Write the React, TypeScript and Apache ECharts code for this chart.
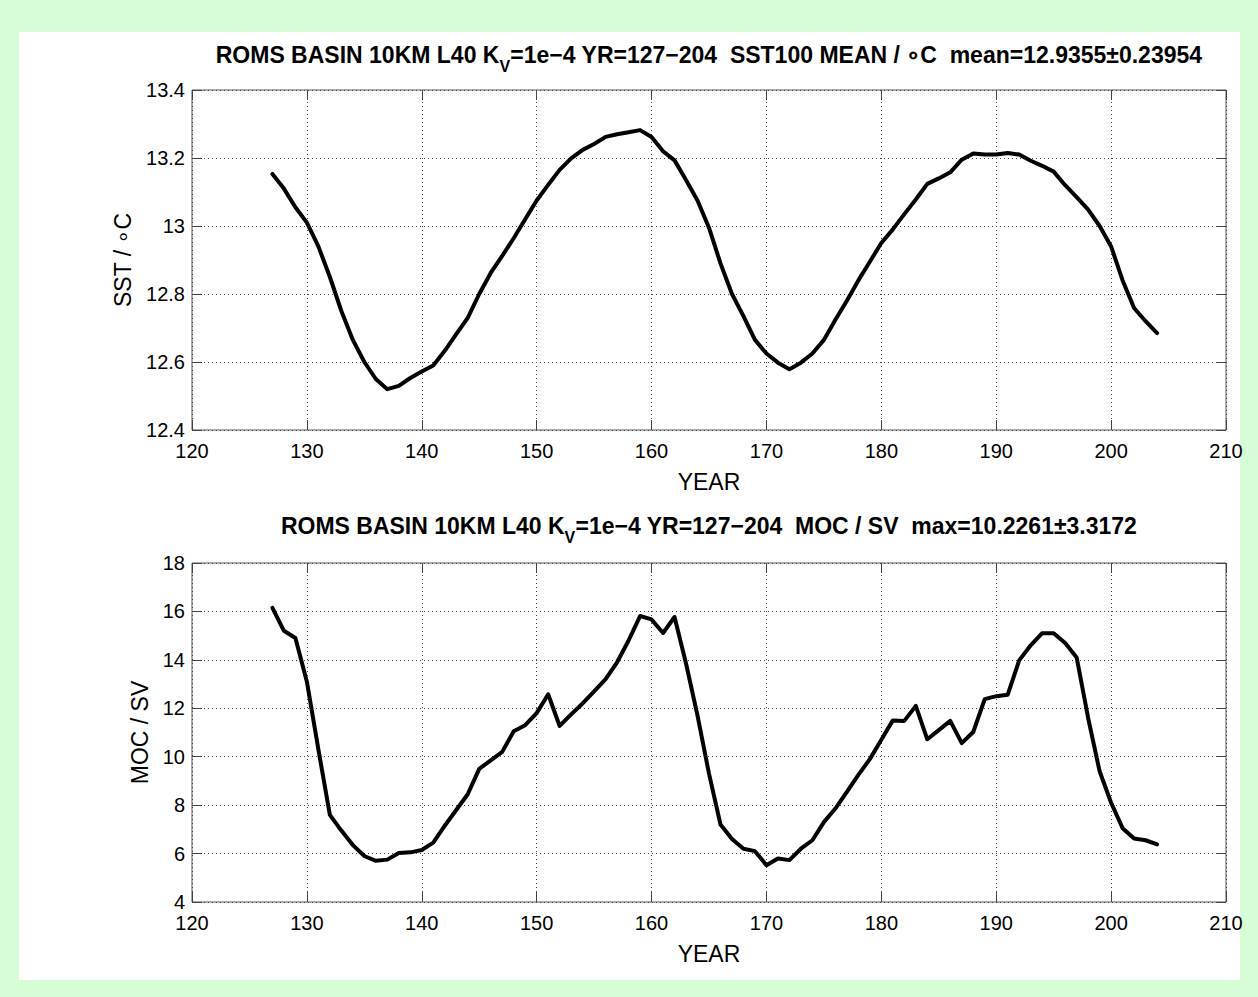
import React, { useEffect, useRef } from "react";
import * as echarts from "echarts";

const YEARS = [
  127, 128, 129, 130, 131, 132, 133, 134, 135, 136, 137, 138, 139, 140, 141, 142, 143, 144, 145, 146,
  147, 148, 149, 150, 151, 152, 153, 154, 155, 156, 157, 158, 159, 160, 161, 162, 163, 164, 165, 166,
  167, 168, 169, 170, 171, 172, 173, 174, 175, 176, 177, 178, 179, 180, 181, 182, 183, 184, 185, 186,
  187, 188, 189, 190, 191, 192, 193, 194, 195, 196, 197, 198, 199, 200, 201, 202, 203, 204,
];

const SST = [
  13.153, 13.11, 13.055, 13.01, 12.94, 12.85, 12.75, 12.665, 12.6, 12.55, 12.52, 12.53, 12.553, 12.572,
  12.59, 12.633, 12.682, 12.73, 12.8, 12.862, 12.912, 12.964, 13.02, 13.075, 13.121, 13.165, 13.199,
  13.224, 13.241, 13.262, 13.27, 13.276, 13.282, 13.262, 13.22, 13.193, 13.135, 13.075, 12.995, 12.89,
  12.8, 12.735, 12.665, 12.625, 12.598, 12.579, 12.598, 12.625, 12.665, 12.724, 12.78, 12.84, 12.895,
  12.95, 12.99, 13.035, 13.078, 13.124, 13.14, 13.158, 13.195, 13.213, 13.21, 13.21, 13.215, 13.21,
  13.192, 13.177, 13.16, 13.12, 13.085, 13.048, 13.0, 12.94, 12.84, 12.759, 12.72, 12.685,
];

const MOC = [
  16.15, 15.2, 14.9, 13.1, 10.3, 7.6, 6.95, 6.35, 5.9, 5.7, 5.75, 6.02, 6.05, 6.15, 6.45, 7.15, 7.8,
  8.45, 9.5, 9.85, 10.2, 11.05, 11.3, 11.8, 12.58, 11.27, 11.75, 12.2, 12.7, 13.2, 13.9, 14.8, 15.81,
  15.67, 15.11, 15.77, 13.85, 11.7, 9.3, 7.2, 6.6, 6.2, 6.1, 5.52, 5.8, 5.73, 6.2, 6.55, 7.3, 7.86,
  8.55, 9.25, 9.9, 10.7, 11.5, 11.48, 12.1, 10.72, 11.1, 11.48, 10.56, 11.02, 12.38, 12.5, 12.56,
  13.98, 14.6, 15.1, 15.1, 14.7, 14.1, 11.6, 9.4, 8.1, 7.05, 6.62, 6.55, 6.38,
];

const X_RANGE = [120, 210];
const X_STEP = 10;
const SST_RANGE = [12.4, 13.4];
const SST_STEP = 0.2;
const MOC_RANGE = [4, 18];
const MOC_STEP = 2;

const TITLE_HEAD = "ROMS BASIN 10KM L40 K";
const TITLE_SUB = "V";
const TITLE1_TAIL = "=1e\u22124 YR=127\u2212204  SST100 MEAN / \u2218C  mean=12.9355\u00b10.23954";
const TITLE2_TAIL = "=1e\u22124 YR=127\u2212204  MOC / SV  max=10.2261\u00b13.3172";
const X_NAME = "YEAR";
const SST_NAME = "SST / \u2218C";
const MOC_NAME = "MOC / SV";

const FONT = "'Liberation Sans', Arial, Helvetica, sans-serif";

const PLOT_LEFT = 192;
const PLOT_WIDTH = 1034;
const TOP1 = 90;
const H1 = 340;
const TOP2 = 563;
const H2 = 339;

function xAxes(gridIndex: number) {
  const base = {
    gridIndex,
    type: "value" as const,
    min: X_RANGE[0],
    max: X_RANGE[1],
    interval: X_STEP,
    axisLine: { show: false },
    axisTick: { show: true, inside: true, length: 10, lineStyle: { color: "#444", width: 1 } },
  };
  return [
    {
      ...base,
      position: "bottom",
      axisLabel: { show: true, fontSize: 20, color: "#000", fontFamily: FONT, margin: 11 },
      splitLine: { show: true, lineStyle: { type: [1, 3], color: "#444", width: 1 } },
      name: X_NAME,
      nameLocation: "middle",
      nameGap: 40,
      nameTextStyle: { fontSize: 23, color: "#000", fontFamily: FONT },
    },
    {
      ...base,
      position: "top",
      axisLabel: { show: false },
      splitLine: { show: false },
    },
  ];
}

function yAxes(gridIndex: number, range: number[], step: number, name: string, gap: number) {
  const base = {
    gridIndex,
    type: "value" as const,
    min: range[0],
    max: range[1],
    interval: step,
    axisLine: { show: false },
    axisTick: { show: true, inside: true, length: 10, lineStyle: { color: "#444", width: 1 } },
  };
  return [
    {
      ...base,
      position: "left",
      axisLabel: { show: true, fontSize: 20, color: "#000", fontFamily: FONT, margin: 7 },
      splitLine: { show: true, lineStyle: { type: [1, 3], color: "#444", width: 1 } },
      name,
      nameLocation: "middle",
      nameGap: gap,
      nameTextStyle: { fontSize: 23, color: "#000", fontFamily: FONT },
    },
    {
      ...base,
      position: "right",
      axisLabel: { show: false },
      splitLine: { show: false },
    },
  ];
}

function titleGraphic(tail: string, y: number) {
  return {
    type: "text",
    x: PLOT_LEFT + PLOT_WIDTH / 2,
    y,
    style: {
      text: `{a|${TITLE_HEAD}}{s|${TITLE_SUB}}{a|${tail}}`,
      align: "center",
      verticalAlign: "top",
      rich: {
        a: { fontSize: 23, fontWeight: "bold", fontFamily: FONT, fill: "#000", lineHeight: 26, verticalAlign: "top" },
        s: {
          fontSize: 16,
          fontWeight: "bold",
          fontFamily: FONT,
          fill: "#000",
          lineHeight: 18,
          verticalAlign: "top",
          padding: [15, 0, 0, 0],
        },
      },
    },
  };
}

export default function App() {
  const ref = useRef<HTMLDivElement>(null);

  useEffect(() => {
    if (!ref.current) return;
    const chart = echarts.init(ref.current, undefined, { renderer: "svg" });
    const option = {
      animation: false,
      grid: [
        { left: PLOT_LEFT, top: TOP1, width: PLOT_WIDTH, height: H1, show: true, borderColor: "#555", borderWidth: 1, backgroundColor: "transparent" },
        { left: PLOT_LEFT, top: TOP2, width: PLOT_WIDTH, height: H2, show: true, borderColor: "#555", borderWidth: 1, backgroundColor: "transparent" },
      ],
      xAxis: [...xAxes(0), ...xAxes(1)],
      yAxis: [
        ...yAxes(0, SST_RANGE, SST_STEP, SST_NAME, 58),
        ...yAxes(1, MOC_RANGE, MOC_STEP, MOC_NAME, 40),
      ],
      graphic: [titleGraphic(TITLE1_TAIL, 43), titleGraphic(TITLE2_TAIL, 514)],
      series: [
        {
          type: "line",
          xAxisIndex: 0,
          yAxisIndex: 0,
          data: YEARS.map((yr, i) => [yr, SST[i]]),
          showSymbol: false,
          symbol: "none",
          lineStyle: { color: "#000", width: 4, join: "round", cap: "round" },
          z: 5,
        },
        {
          type: "line",
          xAxisIndex: 2,
          yAxisIndex: 2,
          data: YEARS.map((yr, i) => [yr, MOC[i]]),
          showSymbol: false,
          symbol: "none",
          lineStyle: { color: "#000", width: 4, join: "round", cap: "round" },
          z: 5,
        },
      ],
    };
    chart.setOption(option as any);
    return () => chart.dispose();
  }, []);

  return (
    <div style={{ position: "absolute", left: 0, top: 0, width: 1258, height: 997, background: "#d6fdd6", overflow: "hidden" }}>
      <div style={{ position: "absolute", left: 19, top: 32, width: 1221, height: 948, background: "#ffffff" }} />
      <div ref={ref} style={{ position: "absolute", left: 0, top: 0, width: 1258, height: 997 }} />
    </div>
  );
}
